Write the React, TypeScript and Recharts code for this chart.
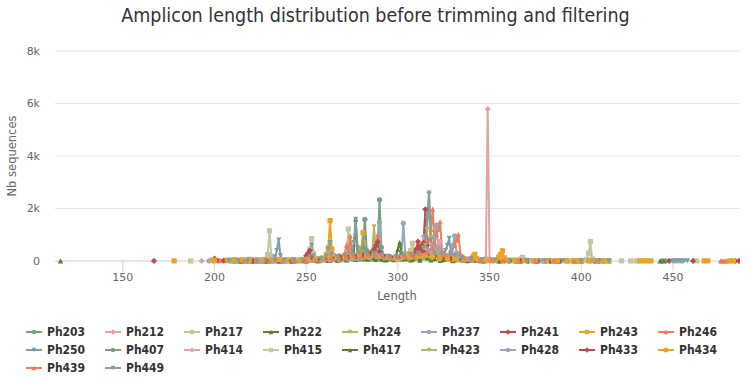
import { CartesianGrid, Line, LineChart, XAxis, YAxis } from "recharts"

// Amplicon length distribution (before trimming/filtering), one line per sample.
type Pt = [number, number | null]

const ph203: Pt[] = [[212, 3], [218, 5], [224, 4], [229, 10], [233, 6], [238, 12], [244, 8], [249, 20], [252, 70], [255, 30], [259, 45], [262, 90], [265, 60], [268, 110], [271, 140], [274, 160], [277, 210], [280, 180], [283, 240], [286, 300], [288, 420], [289, 650], [290, 2330], [291, 520], [292, 180], [295, 140], [298, 110], [301, 130], [304, 90], [308, 120], [312, 150], [316, 240], [318, 200], [321, 130], [325, 80], [329, 60], [334, 40], [340, 25], [347, 15], [355, 8], [364, 5], [375, 3], [388, 2], [400, 2], [412, 1]]
const ph212: Pt[] = [[193, 4], [194, null], [208, 2], [214, 4], [221, 3], [227, 6], [234, 5], [241, 8], [247, 10], [253, 30], [258, 20], [263, 150], [266, 40], [270, 60], [275, 90], [279, 70], [284, 110], [288, 140], [292, 90], [297, 80], [302, 120], [306, 100], [310, 160], [314, 220], [318, 180], [322, 150], [326, 90], [331, 60], [336, 40], [341, 30], [345, 25], [347, 40], [348, 120], [349, 5790], [350, 90], [351, 30], [355, 20], [360, 10], [366, 6], [374, 4], [383, 3], [395, 2], [407, 2]]
const ph217: Pt[] = [[211, 10], [215, 25], [219, 15], [223, 30], [226, 20], [228, 60], [229, 250], [230, 1150], [231, 180], [232, 40], [236, 30], [240, 20], [244, 35], [248, 25], [252, 60], [256, 40], [260, 80], [264, 60], [267, 90], [270, 140], [272, 300], [273, 1220], [274, 280], [276, 120], [280, 100], [284, 130], [288, 160], [292, 90], [296, 70], [300, 60], [304, 80], [309, 70], [314, 90], [319, 60], [324, 40], [330, 30], [337, 20], [345, 12], [354, 8], [362, 5], [371, 3], [380, 2], [392, 2]]
const ph222: Pt[] = [[116, 6], [117, null], [214, 2], [220, 5], [227, 3], [235, 6], [242, 4], [250, 10], [257, 15], [263, 25], [268, 40], [272, 60], [275, 150], [276, 300], [277, 1600], [278, 250], [280, 90], [284, 70], [288, 60], [293, 40], [298, 50], [302, 70], [307, 40], [312, 30], [318, 45], [323, 25], [330, 15], [338, 10], [347, 6], [356, 4], [367, 3], [380, 2]]
const ph224: Pt[] = [[217, 3], [224, 6], [231, 4], [238, 8], [245, 5], [252, 15], [258, 20], [264, 35], [269, 50], [274, 70], [279, 90], [283, 110], [285, 200], [286, 350], [287, 1300], [288, 300], [290, 150], [294, 100], [298, 80], [302, 60], [306, 90], [310, 120], [314, 150], [318, 110], [322, 70], [327, 50], [333, 30], [340, 20], [348, 10], [357, 6], [367, 4], [379, 3], [392, 2]]
const ph237: Pt[] = [[197, 8], [198, null], [209, 3], [216, 5], [223, 4], [230, 8], [237, 6], [244, 12], [250, 20], [256, 25], [261, 45], [266, 60], [271, 80], [276, 110], [280, 140], [284, 180], [287, 250], [289, 400], [290, 1475], [291, 350], [293, 180], [296, 120], [299, 100], [301, 140], [302, 300], [303, 1440], [304, 260], [306, 110], [310, 130], [314, 170], [318, 200], [322, 140], [326, 90], [331, 60], [337, 40], [344, 25], [352, 15], [361, 8], [371, 5], [383, 3], [396, 2], [410, 2]]
const ph241: Pt[] = [[200, 90], [201, null], [211, 4], [218, 6], [225, 5], [232, 8], [239, 6], [246, 10], [251, 60], [252, 300], [253, 120], [258, 40], [263, 120], [267, 80], [271, 110], [275, 90], [279, 130], [283, 160], [287, 200], [291, 140], [295, 110], [299, 90], [303, 130], [307, 160], [309, 300], [310, 450], [311, 740], [312, 380], [313, 450], [314, 700], [315, 1970], [316, 600], [317, 300], [319, 200], [322, 140], [326, 90], [331, 60], [337, 40], [344, 25], [352, 15], [361, 10], [371, 6], [383, 4], [396, 3], [410, 2]]
const ph243: Pt[] = [[178, 5], [179, null], [206, 15], [209, 30], [212, 20], [216, 45], [220, 25], [224, 40], [228, 30], [232, 50], [236, 35], [240, 45], [244, 30], [248, 40], [252, 80], [256, 60], [259, 120], [261, 250], [262, 500], [263, 1540], [264, 450], [265, 200], [268, 130], [272, 150], [276, 200], [279, 300], [280, 450], [281, 1080], [282, 350], [284, 200], [288, 180], [292, 130], [296, 100], [300, 80], [304, 110], [308, 130], [312, 150], [316, 180], [320, 140], [324, 90], [329, 60], [335, 40], [342, 30], [349, 20], [357, 15], [366, 10], [376, 8], [387, 6], [398, 5], [408, 4], [415, 3]]
const ph246: Pt[] = [[203, 20], [204, null], [213, 5], [220, 8], [227, 6], [234, 10], [241, 8], [248, 15], [254, 30], [259, 50], [264, 80], [268, 120], [271, 300], [272, 600], [273, 400], [274, 960], [275, 300], [277, 180], [281, 200], [285, 250], [288, 400], [289, 1000], [290, 300], [293, 200], [297, 150], [301, 180], [305, 220], [309, 260], [313, 350], [316, 500], [317, 800], [318, 1200], [319, 1980], [320, 600], [322, 300], [325, 180], [329, 120], [334, 80], [340, 50], [347, 30], [355, 20], [364, 12], [374, 8], [385, 5], [397, 3], [409, 2], [410, null], [477, 4], [479, 3]]
const ph250: Pt[] = [[206, 4], [212, 8], [218, 6], [223, 12], [228, 10], [232, 40], [233, 150], [234, 400], [235, 800], [236, 200], [237, 40], [241, 15], [246, 20], [250, 40], [253, 120], [257, 50], [261, 90], [265, 120], [269, 150], [273, 200], [275, 400], [276, 700], [277, 1590], [278, 500], [280, 250], [284, 200], [288, 230], [292, 160], [296, 120], [300, 100], [304, 130], [308, 160], [312, 200], [316, 260], [320, 200], [324, 150], [328, 120], [332, 80], [337, 50], [343, 30], [350, 20], [358, 12], [367, 8], [377, 5], [389, 3], [402, 2], [414, 2]]
const ph407: Pt[] = [[210, 3], [217, 6], [224, 4], [231, 8], [238, 6], [245, 10], [251, 20], [256, 30], [261, 45], [266, 60], [270, 80], [274, 100], [278, 130], [280, 250], [281, 500], [282, 1590], [283, 400], [285, 180], [289, 160], [293, 120], [297, 100], [301, 130], [305, 90], [309, 110], [313, 140], [317, 180], [321, 120], [325, 80], [330, 50], [336, 30], [343, 20], [351, 12], [360, 8], [370, 5], [381, 3], [393, 2], [405, 2], [406, null], [444, 4], [446, 5]]
const ph414: Pt[] = [[199, 6], [200, null], [210, 3], [217, 5], [224, 4], [231, 6], [238, 5], [245, 8], [251, 15], [256, 20], [261, 40], [263, 300], [264, 80], [268, 60], [272, 90], [276, 110], [280, 130], [284, 150], [288, 180], [292, 120], [296, 100], [300, 90], [304, 110], [308, 140], [311, 250], [313, 500], [314, 930], [315, 400], [317, 300], [320, 350], [322, 600], [323, 750], [324, 300], [327, 150], [331, 90], [336, 60], [342, 40], [349, 25], [357, 15], [366, 10], [376, 6], [387, 4], [399, 3], [411, 2]]
const ph415: Pt[] = [[187, 4], [188, null], [208, 20], [212, 40], [216, 25], [220, 50], [224, 30], [228, 45], [232, 35], [236, 50], [240, 30], [244, 40], [248, 60], [251, 200], [252, 450], [253, 850], [254, 300], [256, 100], [260, 120], [264, 150], [268, 130], [272, 180], [276, 200], [280, 160], [284, 190], [288, 220], [292, 150], [296, 120], [300, 100], [304, 150], [306, 250], [307, 400], [308, 675], [309, 250], [312, 150], [316, 200], [320, 150], [324, 100], [329, 70], [335, 50], [342, 35], [350, 25], [358, 20], [364, 40], [367, 80], [368, 140], [369, 40], [373, 15], [380, 10], [388, 8], [395, 6], [400, 10], [403, 60], [404, 300], [405, 740], [406, 80], [408, 10], [412, 6], [415, 4], [416, null], [422, 5], [423, null], [427, 4], [428, null], [430, 5], [431, null], [463, 4]]
const ph417: Pt[] = [[215, 2], [222, 4], [229, 3], [236, 6], [243, 4], [250, 8], [256, 12], [262, 20], [267, 30], [272, 45], [277, 60], [282, 80], [287, 90], [291, 70], [294, 60], [297, 80], [299, 200], [300, 450], [301, 700], [302, 300], [304, 90], [308, 70], [312, 100], [316, 130], [320, 90], [325, 60], [331, 40], [338, 25], [346, 15], [355, 10], [365, 6], [376, 4], [388, 3], [400, 2], [401, null], [443, 4], [445, 3]]
const ph423: Pt[] = [[213, 3], [220, 5], [227, 4], [234, 7], [241, 5], [248, 10], [254, 20], [260, 30], [265, 45], [270, 60], [275, 80], [280, 100], [285, 130], [290, 160], [294, 120], [298, 100], [302, 130], [306, 160], [310, 220], [313, 350], [315, 600], [316, 1200], [317, 2600], [318, 900], [319, 400], [321, 250], [324, 150], [328, 100], [333, 70], [339, 45], [346, 30], [354, 20], [363, 12], [373, 8], [384, 5], [396, 3], [408, 2]]
const ph428: Pt[] = [[210, 5], [211, null], [218, 4], [225, 6], [232, 5], [239, 8], [246, 6], [252, 15], [258, 25], [263, 40], [268, 60], [273, 80], [277, 100], [281, 120], [285, 150], [289, 180], [293, 130], [297, 110], [301, 140], [305, 170], [309, 200], [313, 260], [317, 400], [319, 600], [320, 900], [321, 1370], [322, 500], [324, 250], [327, 200], [329, 350], [330, 600], [331, 955], [332, 300], [334, 120], [338, 70], [344, 45], [351, 30], [359, 20], [368, 12], [378, 8], [389, 5], [400, 3], [406, 20], [407, 3], [412, 2], [413, null], [451, 4], [453, 5], [455, 4]]
const ph433: Pt[] = [[167, 4], [168, null], [202, 10], [205, 15], [206, null], [214, 5], [221, 8], [228, 6], [235, 10], [242, 8], [248, 15], [250, 200], [251, 300], [252, 400], [253, 150], [256, 60], [260, 90], [264, 120], [267, 150], [268, 190], [269, 100], [273, 150], [277, 180], [281, 220], [285, 300], [287, 450], [288, 600], [289, 730], [290, 350], [292, 200], [296, 150], [300, 130], [304, 160], [308, 200], [310, 350], [311, 500], [312, 450], [313, 600], [314, 350], [316, 250], [320, 180], [324, 120], [329, 80], [335, 50], [342, 35], [350, 20], [358, 12], [367, 8], [376, 6], [386, 5], [388, 4], [389, null], [448, 4], [449, null], [461, 3], [462, null], [484, 3], [486, 4]]
const ph434: Pt[] = [[199, 40], [200, 10], [201, null], [207, 30], [211, 50], [215, 35], [219, 60], [223, 40], [227, 55], [231, 45], [235, 60], [239, 40], [243, 50], [247, 45], [251, 70], [255, 60], [259, 90], [263, 200], [267, 150], [271, 180], [275, 220], [279, 250], [283, 200], [287, 230], [291, 180], [295, 150], [299, 130], [303, 160], [305, 200], [306, 270], [307, 150], [311, 180], [315, 220], [319, 180], [323, 140], [327, 110], [331, 80], [336, 60], [340, 100], [341, 180], [342, 255], [343, 90], [346, 40], [350, 30], [353, 40], [355, 150], [356, 250], [357, 390], [358, 120], [360, 30], [364, 25], [369, 20], [375, 15], [381, 12], [387, 10], [392, 8], [396, 6], [398, 7], [400, 5], [404, 6], [408, 5], [412, 4], [415, 3], [416, null], [432, 5], [434, 6], [436, 5], [438, 4], [439, null], [467, 5], [469, 4], [470, null], [481, 4], [483, 5]]
const ph439: Pt[] = [[203, 15], [204, null], [216, 6], [223, 10], [230, 8], [237, 12], [244, 10], [250, 25], [255, 40], [260, 60], [264, 90], [268, 120], [272, 160], [276, 200], [280, 180], [284, 220], [288, 250], [292, 180], [296, 150], [300, 170], [304, 200], [308, 240], [312, 280], [316, 350], [319, 500], [320, 700], [321, 1000], [322, 1200], [323, 1500], [324, 400], [326, 250], [329, 300], [331, 600], [332, 800], [333, 1020], [334, 300], [336, 150], [340, 90], [345, 60], [351, 40], [358, 25], [366, 15], [375, 10], [385, 6], [396, 4], [408, 3], [409, null], [476, 4], [478, 3]]
const ph449: Pt[] = [[208, 8], [213, 15], [218, 10], [223, 20], [228, 15], [233, 25], [238, 20], [243, 30], [248, 35], [252, 150], [253, 600], [254, 200], [258, 80], [261, 200], [262, 450], [263, 700], [264, 250], [267, 150], [271, 200], [275, 250], [279, 300], [283, 250], [287, 280], [291, 220], [295, 180], [299, 160], [303, 200], [307, 240], [311, 300], [314, 500], [315, 900], [316, 1600], [317, 2540], [318, 800], [320, 300], [324, 250], [326, 400], [327, 600], [328, 865], [329, 300], [331, 200], [335, 120], [340, 80], [346, 50], [353, 35], [361, 25], [370, 15], [380, 10], [390, 8], [400, 6], [410, 5], [415, 4], [416, null], [450, 5], [452, 6], [454, 5], [456, 4], [458, 5]]

const SAMPLE_NAMES = ["Ph203", "Ph212", "Ph217", "Ph222", "Ph224", "Ph237", "Ph241", "Ph243", "Ph246", "Ph250", "Ph407", "Ph414", "Ph415", "Ph417", "Ph423", "Ph428", "Ph433", "Ph434", "Ph439", "Ph449"]
const SAMPLE_DATA = [ph203, ph212, ph217, ph222, ph224, ph237, ph241, ph243, ph246, ph250, ph407, ph414, ph415, ph417, ph423, ph428, ph433, ph434, ph439, ph449]

const X_TICKS = [150, 200, 250, 300, 350, 400, 450]
const Y_TICKS = [0, 2000, 4000, 6000, 8000]

const PALETTE = ["#76a07b", "#e0a4a4", "#c5c79d", "#5a8032", "#b9b45c", "#95a8bd", "#b94b48", "#eba324", "#ef7b59", "#7d9ea8"]
const SYMBOLS = ["circle", "diamond", "square", "triangle", "triangle-down"] as const
type Sym = (typeof SYMBOLS)[number]

const FONT = "'DejaVu Sans', sans-serif"
const TITLE_FONT = "'DejaVu Sans Condensed', 'DejaVu Sans', sans-serif"
const axisTick = { fontSize: 11, fill: "#666666", fontFamily: FONT }

function Marker({ x, y, sym, color, r = 2.6 }: { x: number; y: number; sym: Sym; color: string; r?: number }) {
  if (sym === "circle") return <circle cx={x} cy={y} r={r} fill={color} />
  if (sym === "square") return <rect x={x - r} y={y - r} width={r * 2} height={r * 2} fill={color} />
  if (sym === "diamond")
    return <path d={`M${x} ${y - r - 0.5}L${x + r + 0.5} ${y}L${x} ${y + r + 0.5}L${x - r - 0.5} ${y}Z`} fill={color} />
  if (sym === "triangle")
    return <path d={`M${x} ${y - r}L${x + r} ${y + r}L${x - r} ${y + r}Z`} fill={color} />
  return <path d={`M${x - r} ${y - r}L${x + r} ${y - r}L${x} ${y + r}Z`} fill={color} />
}

function makeDot(sym: Sym, color: string, name: string) {
  return (props: any) => {
    const { cx, cy, index } = props
    if (cx == null || cy == null || props.value == null || Number.isNaN(cy))
      return <g key={`${name}-${index}`} />
    return (
      <g key={`${name}-${index}`}>
        <Marker x={cx} y={cy} sym={sym} color={color} />
      </g>
    )
  }
}

const series = SAMPLE_NAMES.map((name, i) => ({
  name,
  color: PALETTE[i % PALETTE.length],
  sym: SYMBOLS[i % SYMBOLS.length],
  data: SAMPLE_DATA[i].map(([x, y]) => ({ x, y })),
}))

function Legend() {
  return (
    <>
      {series.map((s, i) => {
        const col = i % 9
        const row = Math.floor(i / 9)
        return (
          <div
            key={s.name}
            style={{
              position: "absolute",
              left: 26 + col * 79,
              top: 323 + row * 18,
              height: 18,
              display: "flex",
              alignItems: "center",
              whiteSpace: "nowrap",
            }}
          >
            <svg width={16} height={18} style={{ display: "block" }}>
              <line x1={0} y1={9} x2={16} y2={9} stroke={s.color} strokeWidth={2} />
              <Marker x={8} y={9} sym={s.sym} color={s.color} r={2.2} />
            </svg>
            <span
              style={{
                marginLeft: 5,
                fontFamily: TITLE_FONT,
                fontWeight: "bold",
                fontSize: 12,
                color: "#333333",
              }}
            >
              {s.name}
            </span>
          </div>
        )
      })}
    </>
  )
}

export default function App() {
  return (
    <div style={{ position: "absolute", left: 0, top: 0, width: 751, height: 378, background: "#fff", overflow: "hidden" }}>
      <div
        style={{
          position: "absolute",
          left: 0,
          width: 751,
          top: 4,
          textAlign: "center",
          fontFamily: TITLE_FONT,
          fontSize: 19.5,
          color: "#333333",
        }}
      >
        Amplicon length distribution before trimming and filtering
      </div>
      <LineChart
        width={751}
        height={378}
        margin={{ top: 51, right: 11, bottom: 77, left: 10 }}
        style={{ position: "absolute", left: 0, top: 0 }}
      >
        <CartesianGrid vertical={false} stroke="#e6e6e6" />
        <XAxis
          type="number"
          dataKey="x"
          domain={[113, 486.6]}
          allowDataOverflow
          ticks={X_TICKS}
          height={40}
          tick={axisTick}
          tickSize={10}
          tickMargin={2}
          tickLine={{ stroke: "#ccd6eb" }}
          axisLine={{ stroke: "#ccd6eb" }}
        />
        <YAxis
          type="number"
          domain={[0, 8000]}
          ticks={Y_TICKS}
          width={45}
          tick={axisTick}
          tickLine={false}
          axisLine={false}
          tickSize={0}
          tickMargin={15}
          tickFormatter={(v: number) => (v === 0 ? "0" : `${v / 1000}k`)}
        />
        {series.map((s) => (
          <Line
            key={s.name}
            data={s.data}
            dataKey="y"
            name={s.name}
            type="linear"
            stroke={s.color}
            strokeWidth={2}
            dot={makeDot(s.sym, s.color, s.name)}
            activeDot={false}
            connectNulls={false}
            isAnimationActive={false}
          />
        ))}
      </LineChart>
      <div
        style={{
          position: "absolute",
          left: 12,
          top: 156,
          transform: "translate(-50%, -50%) rotate(-90deg)",
          fontFamily: FONT,
          fontSize: 11.5,
          color: "#666666",
          whiteSpace: "nowrap",
        }}
      >
        Nb sequences
      </div>
      <div
        style={{
          position: "absolute",
          left: 397,
          top: 296,
          transform: "translate(-50%, -50%)",
          fontFamily: FONT,
          fontSize: 11.5,
          color: "#666666",
          whiteSpace: "nowrap",
        }}
      >
        Length
      </div>
      <Legend />
    </div>
  )
}
